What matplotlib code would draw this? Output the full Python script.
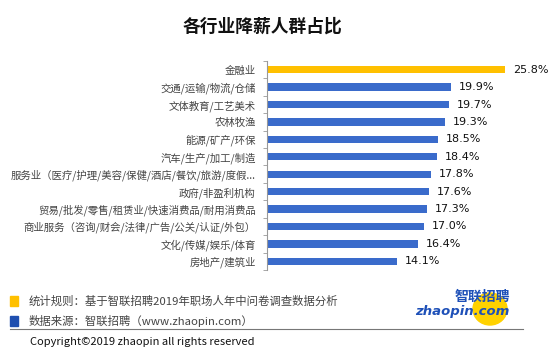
import matplotlib.pyplot as plt
from matplotlib.patches import Rectangle, Ellipse
import matplotlib.lines as mlines

plt.rcParams['font.family'] = ['Noto Sans CJK SC', 'DejaVu Sans']

# Data
industries = ['金融业', '交通/运输/物流/仓储', '文体教育/工艺美术', '农林牧渔',
              '能源/矿产/环保', '汽车/生产/加工/制造',
              '服务业（医疗/护理/美容/保健/酒店/餐饮/旅游/度假...',
              '政府/非盈利机构', '贸易/批发/零售/租赁业/快速消费品/耐用消费品',
              '商业服务（咨询/财会/法律/广告/公关/认证/外包）',
              '文化/传媒/娱乐/体育', '房地产/建筑业']
shares = [25.8, 19.9, 19.7, 19.3, 18.5, 18.4, 17.8, 17.6, 17.3, 17.0, 16.4, 14.1]
bar_colors = ['#FFC000'] + ['#3A6BCB'] * 11

W, H = 553, 354
fig = plt.figure(figsize=(W / 100, H / 100), dpi=100)

ax = fig.add_axes([267 / W, 1 - 270 / H, (550 - 267) / W, (270 - 61) / H])
y = list(range(len(industries)))
ax.barh(y, shares, height=0.42, color=bar_colors, left=0)
ax.set_ylim(len(industries) - 0.5, -0.5)
ax.set_xlim(0, (550 - 268) / 9.19)

for yi, v in zip(y, shares):
    ax.text(v + 0.85, yi, f'{v:.1f}%', va='center', ha='left', fontsize=8,
            color='#111111', family=['DejaVu Sans'])

ax.set_yticks(y)
ax.set_yticklabels(industries, fontsize=7.5, color='#444444')
ax.set_yticks([i - 0.5 for i in range(len(industries) + 1)], minor=True)
ax.tick_params(axis='y', which='major', length=0, pad=8)
ax.tick_params(axis='y', which='minor', length=3, color='#999999')
ax.set_xticks([])
for s in ['top', 'right', 'bottom']:
    ax.spines[s].set_visible(False)
ax.spines['left'].set_color('#999999')
ax.spines['left'].set_linewidth(0.8)

# Title
fig.text(262 / W, 1 - 27 / H, '各行业降薪人群占比', ha='center', va='center',
         fontsize=12.8, fontweight='bold', color='#111111')

# Footer notes
fig.patches.append(Rectangle((10 / W, 1 - 306 / H), 8 / W, 10 / H,
                             transform=fig.transFigure, color='#FFC000'))
fig.patches.append(Rectangle((10 / W, 1 - 326 / H), 8 / W, 10 / H,
                             transform=fig.transFigure, color='#1F4FB0'))
fig.text(29 / W, 1 - 301 / H, '统计规则：基于智联招聘2019年职场人年中问卷调查数据分析',
         fontsize=8.2, color='#444444', va='center')
fig.text(29 / W, 1 - 321 / H, '数据来源：智联招聘（www.zhaopin.com）',
         fontsize=8.2, color='#444444', va='center')
fig.lines.append(mlines.Line2D([10 / W, 523 / W], [1 - 329 / H, 1 - 329 / H],
                               transform=fig.transFigure, color='#777777', lw=0.8))
fig.text(30 / W, 1 - 342 / H, 'Copyright©2019 zhaopin all rights reserved',
         fontsize=8, color='#111111', va='center')

# Logo
fig.patches.append(Ellipse((490 / W, 1 - 309 / H), 34 / W, 32 / H,
                           transform=fig.transFigure, color='#FFD200'))
fig.text(482 / W, 1 - 297 / H, '智联招聘', fontsize=10, fontweight='bold',
         fontstyle='italic', color='#1E50B8', ha='center', va='center')
fig.text(462 / W, 1 - 312 / H, 'zhaopin.com', fontsize=9.5, fontweight='bold',
         fontstyle='italic', color='#1E50B8', ha='center', va='center',
         family=['DejaVu Sans'])

fig.savefig('out.png', dpi=100)
